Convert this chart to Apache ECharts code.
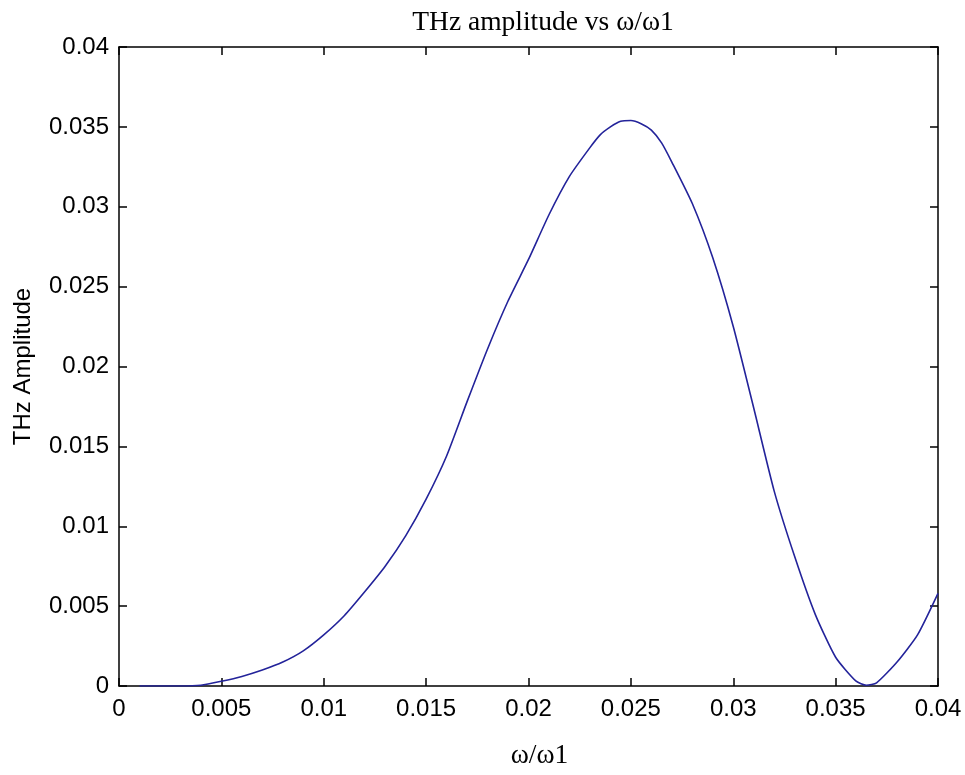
<!DOCTYPE html>
<html>
<head>
<meta charset="utf-8">
<script src="https://cdn.jsdelivr.net/npm/echarts@6/dist/echarts.min.js"></script>
<style>html,body{margin:0;padding:0;background:#fff}#c{width:965px;height:775px}</style>
</head>
<body>
<div id="c"></div>
<script>
const xValues = [0.001,0.002,0.003,0.004,0.005,0.006,0.007,0.008,0.009,0.010,0.011,0.012,0.013,0.014,0.015,0.016,0.017,0.018,0.019,0.020,0.021,0.022,0.023,0.0235,0.024,0.0245,0.025,0.0255,0.026,0.0265,0.027,0.028,0.029,0.030,0.031,0.032,0.033,0.034,0.035,0.036,0.0365,0.037,0.038,0.039,0.040];
const amplitude = [0,0,0,0.00005,0.0003,0.0006,0.0010,0.0015,0.0022,0.0032,0.0044,0.0059,0.0075,0.0094,0.0117,0.0144,0.0178,0.0211,0.0241,0.0267,0.0295,0.0319,0.0337,0.0345,0.0350,0.03535,0.0354,0.0352,0.0348,0.0340,0.0328,0.0302,0.0268,0.0225,0.0174,0.0122,0.0081,0.0045,0.0018,0.0003,0.00005,0.0002,0.0015,0.0032,0.0058];
const xTicks = [0,0.005,0.01,0.015,0.02,0.025,0.03,0.035,0.04];
const yTicks = [0,0.005,0.01,0.015,0.02,0.025,0.03,0.035,0.04];
const titleText = 'THz amplitude vs \u03c9/\u03c91';
const xName = '\u03c9/\u03c91';
const yName = 'THz Amplitude';

const fmt = v => String(Math.round(v * 1000) / 1000);
const tickLabel = {fontFamily: 'Liberation Sans', fontSize: 24, color: '#000'};
const baseAxis = {
  type: 'value', min: 0, max: 0.04, interval: 0.005,
  axisLine: {show: true, onZero: false, lineStyle: {color: '#000', width: 1.5}},
  axisTick: {show: true, inside: true, length: 8, lineStyle: {color: '#000', width: 1.5}},
  splitLine: {show: false}
};
const chart = echarts.init(document.getElementById('c'), null, {renderer: 'canvas'});
chart.setOption({
  backgroundColor: '#fff',
  animation: false,
  title: {
    text: titleText, left: 538, top: 4, textAlign: 'center',
    textStyle: {fontFamily: 'Liberation Serif', fontSize: 27.5, fontWeight: 'normal', color: '#000'}
  },
  grid: {left: 119, right: 27, top: 47, bottom: 77, containLabel: false},
  xAxis: [
    Object.assign({}, baseAxis, {
      position: 'bottom',
      name: xName, nameLocation: 'middle', nameGap: 56,
      nameTextStyle: {fontFamily: 'Liberation Serif', fontSize: 27.5, color: '#000', padding: [0, 0, 0, 22]},
      axisLabel: Object.assign({margin: 11, formatter: fmt, customValues: xTicks}, tickLabel)
    }),
    Object.assign({}, baseAxis, {position: 'top', axisLabel: {show: false}})
  ],
  yAxis: [
    Object.assign({}, baseAxis, {
      position: 'left',
      name: yName, nameLocation: 'middle', nameGap: 84,
      nameTextStyle: {fontFamily: 'Liberation Sans', fontSize: 24, color: '#000'},
      axisLabel: Object.assign({margin: 10, formatter: fmt, customValues: yTicks}, tickLabel)
    }),
    Object.assign({}, baseAxis, {position: 'right', axisLabel: {show: false}})
  ],
  series: [{
    type: 'line',
    data: xValues.map((x, i) => [x, amplitude[i]]),
    showSymbol: false,
    smooth: 0.2,
    lineStyle: {color: '#23239a', width: 1.6}
  }]
});
</script>
</body>
</html>
